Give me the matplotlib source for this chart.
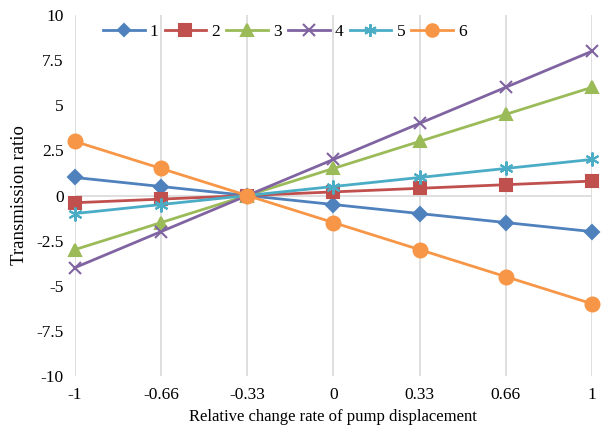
import numpy as np
from matplotlib import pyplot as plt

plt.rcParams["font.family"] = ["Liberation Serif", "DejaVu Serif"]

x_labels = ["-1", "-0.66", "-0.33", "0", "0.33", "0.66", "1"]
s1 = [1, 0.5, 0, -0.5, -1, -1.5, -2]
s2 = [-0.4, -0.2, 0, 0.2, 0.4, 0.6, 0.8]
s3 = [-3, -1.5, 0, 1.5, 3, 4.5, 6]
s4 = [-4, -2, 0, 2, 4, 6, 8]
s5 = [-1, -0.5, 0, 0.5, 1, 1.5, 2]
s6 = [3, 1.5, 0, -1.5, -3, -4.5, -6]
y_ticks = [10, 7.5, 5, 2.5, 0, -2.5, -5, -7.5, -10]

series = [
    ("1", s1, "#4F81BD", "D", 7),
    ("2", s2, "#C0504D", "s", 9),
    ("3", s3, "#9BBB59", "^", 9),
    ("4", s4, "#8064A2", "x", 9),
    ("5", s5, "#4BACC6", (6, 2, 0), 10),
    ("6", s6, "#F79646", "o", 10),
]

fig = plt.figure(figsize=(6.04, 4.34), dpi=100)
ax = fig.add_axes([0.124, 0.134, 0.856, 0.831])

x = np.arange(len(x_labels))
for lab, vals, col, mk, ms in series:
    ax.plot(x, vals, color=col, marker=mk, markersize=ms, linewidth=2,
            markeredgewidth=1.5, label=lab, clip_on=False, zorder=3)

ax.set_xlim(0, len(x_labels) - 1)
ax.set_ylim(-10, 10)
ax.set_xticks(x)
ax.set_xticklabels(x_labels, fontsize=12.5)
ax.set_yticks(y_ticks)
ax.set_yticklabels([f"{t:g}" for t in y_ticks], fontsize=12.5)
ax.grid(axis="x", color="#D9D9D9", linewidth=1.2)
ax.axhline(0, color="#D9D9D9", linewidth=1.2, zorder=1)
for sp in ax.spines.values():
    sp.set_visible(False)
ax.tick_params(axis="y", length=0, pad=8)
ax.tick_params(axis="x", length=0, pad=8)

ax.set_xlabel("Relative change rate of pump displacement", fontsize=12, labelpad=4)
ax.set_ylabel("Transmission ratio", fontsize=13.5, labelpad=6)

ax.legend(loc="center", bbox_to_anchor=(0.406, 0.953), ncol=6, frameon=False,
          fontsize=12.5, handlelength=2.4, columnspacing=0.35, handletextpad=0.3,
          markerscale=0.9)

fig.savefig("out.png", dpi=100)
